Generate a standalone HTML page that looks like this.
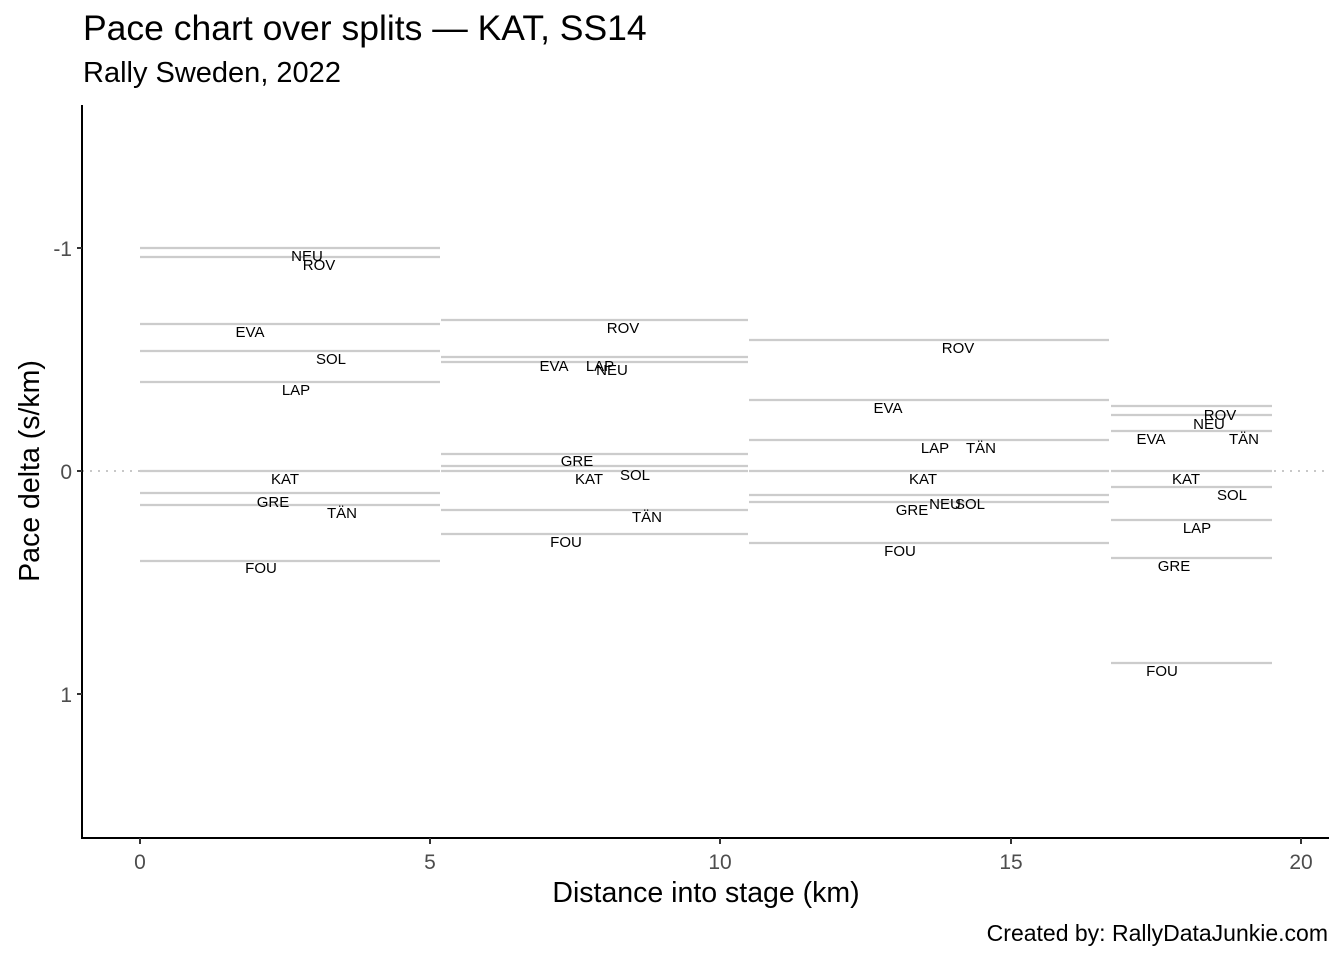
<!DOCTYPE html>
<html><head><meta charset="utf-8"><style>body{margin:0;background:#fff}svg{display:block}</style></head>
<body>
<svg width="1344" height="960" xmlns="http://www.w3.org/2000/svg" font-family="'Liberation Sans', Arial, sans-serif">
<rect width="1344" height="960" fill="#fff"/>
<text x="83" y="40" font-size="35.5" fill="#000">Pace chart over splits — KAT, SS14</text>
<text x="83" y="82" font-size="29" fill="#000">Rally Sweden, 2022</text>
<line x1="82" y1="471" x2="1329" y2="471" stroke="#c8c8c8" stroke-width="2" stroke-dasharray="2,6"/>
<g stroke="#cccccc" stroke-width="2.2">
<line x1="140" x2="440" y1="248" y2="248"/><line x1="140" x2="440" y1="257" y2="257"/>
<line x1="140" x2="440" y1="324" y2="324"/><line x1="140" x2="440" y1="351" y2="351"/>
<line x1="140" x2="440" y1="382" y2="382"/><line x1="140" x2="440" y1="471" y2="471"/>
<line x1="140" x2="440" y1="493" y2="493"/><line x1="140" x2="440" y1="505" y2="505"/>
<line x1="140" x2="440" y1="561" y2="561"/>
<line x1="441" x2="748" y1="320" y2="320"/><line x1="441" x2="748" y1="357" y2="357"/>
<line x1="441" x2="748" y1="362" y2="362"/><line x1="441" x2="748" y1="454" y2="454"/>
<line x1="441" x2="748" y1="466" y2="466"/><line x1="441" x2="748" y1="471" y2="471"/>
<line x1="441" x2="748" y1="510" y2="510"/><line x1="441" x2="748" y1="534" y2="534"/>
<line x1="749" x2="1109" y1="340" y2="340"/><line x1="749" x2="1109" y1="400" y2="400"/>
<line x1="749" x2="1109" y1="440" y2="440"/><line x1="749" x2="1109" y1="471" y2="471"/>
<line x1="749" x2="1109" y1="495" y2="495"/><line x1="749" x2="1109" y1="502" y2="502"/>
<line x1="749" x2="1109" y1="543" y2="543"/>
<line x1="1111" x2="1272" y1="406" y2="406"/><line x1="1111" x2="1272" y1="415" y2="415"/>
<line x1="1111" x2="1272" y1="431" y2="431"/><line x1="1111" x2="1272" y1="471" y2="471"/>
<line x1="1111" x2="1272" y1="487" y2="487"/><line x1="1111" x2="1272" y1="520" y2="520"/>
<line x1="1111" x2="1272" y1="558" y2="558"/><line x1="1111" x2="1272" y1="663" y2="663"/>
</g>
<g font-size="15" fill="#000" text-anchor="middle">
<text x="307" y="261">NEU</text><text x="319" y="270">ROV</text><text x="250" y="337">EVA</text>
<text x="331" y="364">SOL</text><text x="296" y="395">LAP</text><text x="285" y="484">KAT</text>
<text x="273" y="507">GRE</text><text x="342" y="518">TÄN</text><text x="261" y="573">FOU</text>
<text x="623" y="333">ROV</text><text x="554" y="371">EVA</text><text x="600" y="371">LAP</text>
<text x="612" y="375">NEU</text><text x="577" y="466">GRE</text><text x="589" y="484">KAT</text>
<text x="635" y="480">SOL</text><text x="647" y="522">TÄN</text><text x="566" y="547">FOU</text>
<text x="958" y="353">ROV</text><text x="888" y="413">EVA</text><text x="935" y="453">LAP</text>
<text x="981" y="453">TÄN</text><text x="923" y="484">KAT</text><text x="912" y="515">GRE</text>
<text x="945" y="509">NEU</text><text x="970" y="509">SOL</text><text x="900" y="556">FOU</text>
<text x="1220" y="420">ROV</text><text x="1209" y="429">NEU</text><text x="1151" y="444">EVA</text>
<text x="1244" y="444">TÄN</text><text x="1186" y="484">KAT</text><text x="1232" y="500">SOL</text>
<text x="1197" y="533">LAP</text><text x="1174" y="571">GRE</text><text x="1162" y="676">FOU</text>
</g>
<line x1="82" y1="105" x2="82" y2="839" stroke="#000" stroke-width="2"/>
<line x1="81" y1="838" x2="1329" y2="838" stroke="#000" stroke-width="2"/>
<g stroke="#333" stroke-width="2">
<line x1="77" x2="82" y1="248" y2="248"/><line x1="77" x2="82" y1="471" y2="471"/><line x1="77" x2="82" y1="694" y2="694"/>
<line x1="140" x2="140" y1="838" y2="844"/><line x1="430" x2="430" y1="838" y2="844"/><line x1="720" x2="720" y1="838" y2="844"/>
<line x1="1011" x2="1011" y1="838" y2="844"/><line x1="1301" x2="1301" y1="838" y2="844"/>
</g>
<g font-size="21" fill="#4d4d4d">
<g text-anchor="end"><text x="72" y="256">-1</text><text x="72" y="479">0</text><text x="72" y="702">1</text></g>
<g text-anchor="middle"><text x="140" y="869">0</text><text x="430" y="869">5</text><text x="720" y="869">10</text><text x="1011" y="869">15</text><text x="1301" y="869">20</text></g>
</g>
<text x="706" y="902" font-size="28.5" text-anchor="middle">Distance into stage (km)</text>
<text transform="translate(39,471) rotate(-90)" font-size="28.5" text-anchor="middle">Pace delta (s/km)</text>
<text x="1328" y="941" font-size="23" text-anchor="end">Created by: RallyDataJunkie.com</text>
</svg>
</body></html>
